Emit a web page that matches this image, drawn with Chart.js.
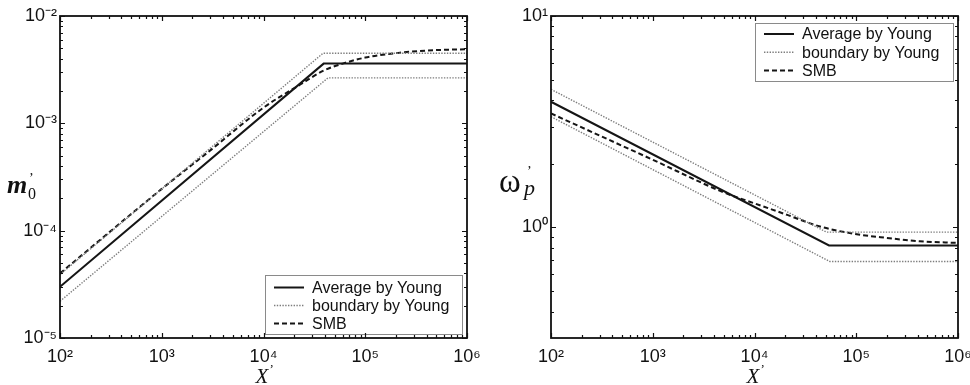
<!DOCTYPE html>
<html><head><meta charset="utf-8">
<script src="https://cdn.jsdelivr.net/npm/chart.js@4/dist/chart.umd.min.js"></script>
<style>
html,body{margin:0;padding:0;background:#fff;}
#wrap{position:relative;width:970px;height:385px;overflow:hidden;background:#fff;}
canvas{position:absolute;top:0;}
</style></head><body>
<div id="wrap">
<canvas id="left" width="485" height="385" style="left:0px"></canvas>
<canvas id="right" width="485" height="385" style="left:485px"></canvas>
</div>
<script>
// ---------- data ----------
const seriesNames = ['Average by Young', 'boundary by Young', 'SMB'];

// left panel: m0' vs X'
const mAvgX   = [1e2, 3.9e4, 1e6];
const mAvgY   = [3.0e-5, 3.6e-3, 3.6e-3];
const mUpX    = [1e2, 3.85e4, 1e6];
const mUpY    = [3.9e-5, 4.5e-3, 4.5e-3];
const mLoX    = [1e2, 4.3e4, 1e6];
const mLoY    = [2.2e-5, 2.65e-3, 2.65e-3];
const mSmbX   = [1e2, 1e3, 3e3, 1e4, 2.3e4, 3.9e4, 6e4, 1e5, 2.2e5, 4.7e5, 1e6];
const mSmbY   = [4.0e-5, 2.45e-4, 5.6e-4, 1.4e-3, 2.3e-3, 3.1e-3, 3.6e-3, 4.1e-3, 4.55e-3, 4.8e-3, 4.9e-3];

// right panel: omega_p' vs X'
const wAvgX   = [1e2, 5.4e4, 1e6];
const wAvgY   = [3.93, 0.822, 0.822];
const wUpX    = [1e2, 5.1e4, 1e6];
const wUpY    = [4.5, 0.95, 0.95];
const wLoX    = [1e2, 5.5e4, 1e6];
const wLoY    = [3.34, 0.69, 0.69];
const wSmbX   = [1e2, 1e3, 4.9e3, 1e4, 2.1e4, 4.4e4, 9.3e4, 2e5, 4.2e5, 1e6];
const wSmbY   = [3.46, 2.09, 1.47, 1.30, 1.146, 1.01, 0.935, 0.892, 0.86, 0.845];

// axes / tick labels
const xTicks      = [1e2, 1e3, 1e4, 1e5, 1e6];
const leftYTicks  = [1e-5, 1e-4, 1e-3, 1e-2];
const rightYTicks = [1e0, 1e1];
const xRange      = [1e2, 1e6];
const leftYRange  = [1e-5, 1e-2];
const rightYRange = [0.3162, 10];

// ---------- helpers ----------
const SUP = {'-':'\u207B','0':'\u2070','1':'\u00B9','2':'\u00B2','3':'\u00B3','4':'\u2074','5':'\u2075','6':'\u2076','7':'\u2077','8':'\u2078','9':'\u2079'};
function powLabel(v){
  const e = Math.round(Math.log10(v));
  return '10' + String(e).split('').map(c => SUP[c]).join('');
}
function pts(xs, ys){ return xs.map((x,i)=>({x:x, y:ys[i]})); }

const STY = {
  avg: {borderColor:'#151515', borderWidth:2, borderDash:[]},
  bnd: {borderColor:'#7d7d7d', borderWidth:1.4, borderDash:[1.4,1.4]},
  smb: {borderColor:'#151515', borderWidth:2, borderDash:[5,3]}
};

function makeDatasets(aX,aY,uX,uY,lX,lY,sX,sY){
  const base = {pointRadius:0, tension:0, fill:false};
  return [
    Object.assign({label:seriesNames[0], data:pts(aX,aY)}, base, STY.avg),
    Object.assign({label:seriesNames[1], data:pts(uX,uY)}, base, STY.bnd),
    Object.assign({label:seriesNames[1], data:pts(lX,lY)}, base, STY.bnd),
    Object.assign({label:seriesNames[2], data:pts(sX,sY), cubicInterpolationMode:'monotone'}, base, STY.smb)
  ];
}

function minorValues(min, max){
  const out = [];
  for (let d = Math.floor(Math.log10(min)) - 1; d <= Math.ceil(Math.log10(max)); d++){
    for (let k = 2; k <= 9; k++){
      const v = k * Math.pow(10, d);
      if (v > min * 1.0001 && v < max * 0.9999) out.push(v);
    }
  }
  return out;
}

function zeroPad(s){ s.paddingLeft = 0; s.paddingRight = 0; s.paddingTop = 0; s.paddingBottom = 0; }

const framePlugin = {
  id: 'frame',
  afterDatasetsDraw(chart, args, opts){
    const ctx = chart.ctx, a = chart.chartArea;
    const xs = chart.scales.x, ys = chart.scales.y;
    ctx.save();
    // legend
    const L = opts.legend;
    const bx = L.right ? a.right - L.dx - L.w : a.left + L.dx;
    const by = L.top ? a.top + L.dy : a.bottom - L.dy - L.h;
    ctx.fillStyle = '#fff';
    ctx.fillRect(bx, by, L.w, L.h);
    ctx.strokeStyle = '#8a8a8a';
    ctx.lineWidth = 1;
    ctx.strokeRect(Math.round(bx)+0.5, Math.round(by)+0.5, L.w, L.h);
    const rows = [STY.avg, STY.bnd, STY.smb];
    ctx.font = '16px "Liberation Sans", Arial, sans-serif';
    ctx.textBaseline = 'middle';
    ctx.textAlign = 'left';
    rows.forEach((s, i) => {
      const yy = by + L.row0 + i * L.rowH;
      ctx.beginPath();
      ctx.setLineDash(s.borderDash);
      ctx.strokeStyle = s.borderColor;
      ctx.lineWidth = s.borderWidth;
      ctx.moveTo(bx + 9, yy); ctx.lineTo(bx + 39, yy);
      ctx.stroke();
      ctx.setLineDash([]);
      ctx.fillStyle = '#111';
      ctx.fillText(seriesNames[i], bx + 47, yy + 1);
    });

    // box
    ctx.setLineDash([]);
    ctx.strokeStyle = '#111';
    ctx.lineWidth = 1.8;
    ctx.strokeRect(a.left, a.top, a.right - a.left, a.bottom - a.top);

    // inward ticks
    ctx.lineWidth = 1.2;
    const major = 5, minor = 3;
    const xmaj = xTicks, xmin = minorValues(xs.min, xs.max);
    ctx.beginPath();
    xmaj.concat(xmin).forEach((v, i) => {
      const len = i < xmaj.length ? major : minor;
      const px = Math.round(xs.getPixelForValue(v)) + 0.5;
      ctx.moveTo(px, a.bottom); ctx.lineTo(px, a.bottom - len);
      ctx.moveTo(px, a.top); ctx.lineTo(px, a.top + len);
    });
    const ymaj = opts.yTicks, ymin = minorValues(ys.min, ys.max);
    ymaj.concat(ymin).forEach((v, i) => {
      const len = i < ymaj.length ? major : minor;
      const py = Math.round(ys.getPixelForValue(v)) + 0.5;
      ctx.moveTo(a.left, py); ctx.lineTo(a.left + len, py);
      ctx.moveTo(a.right, py); ctx.lineTo(a.right - len, py);
    });
    ctx.stroke();

    // x axis title  X'
    ctx.fillStyle = '#111';
    ctx.textBaseline = 'alphabetic';
    ctx.textAlign = 'left';
    const cx = (a.left + a.right) / 2;
    ctx.font = 'italic 21px "Liberation Serif", "Times New Roman", serif';
    ctx.fillText('X', cx - 8, 383);
    ctx.font = '13px "Liberation Serif", serif';
    ctx.fillText('\u2019', cx + 6, 373);

    // y axis title
    opts.drawYTitle(ctx, a);
    ctx.restore();
  }
};

function baseOptions(yRange, yTicks, yWidth, padRight, legend, drawYTitle){
  return {
    responsive: false,
    animation: false,
    events: [],
    layout: {padding: {left: 0, right: padRight, top: 16, bottom: 0}},
    plugins: {
      legend: {display: false},
      tooltip: {enabled: false},
      frame: {legend: legend, yTicks: yTicks, drawYTitle: drawYTitle}
    },
    scales: {
      x: {
        type: 'logarithmic', min: xRange[0], max: xRange[1],
        grid: {display: false, drawTicks: false},
        border: {display: false},
        afterBuildTicks: s => { s.ticks = xTicks.map(v => ({value: v})); },
        afterFit: s => { s.height = 47; zeroPad(s); },
        ticks: {
          autoSkip: false, maxRotation: 0, padding: 8, color: '#111',
          font: {family: '"Liberation Sans", Arial, sans-serif', size: 18},
          callback: v => powLabel(v)
        }
      },
      y: {
        type: 'logarithmic', min: yRange[0], max: yRange[1],
        grid: {display: false, drawTicks: false},
        border: {display: false},
        afterBuildTicks: s => { s.ticks = yTicks.map(v => ({value: v})); },
        afterFit: s => { s.width = yWidth; zeroPad(s); },
        ticks: {
          autoSkip: false, padding: 3, color: '#111',
          font: {family: '"Liberation Sans", Arial, sans-serif', size: 18},
          callback: v => powLabel(v)
        }
      }
    }
  };
}

function drawMTitle(ctx, a){
  ctx.fillStyle = '#111';
  ctx.textAlign = 'left';
  ctx.textBaseline = 'alphabetic';
  ctx.font = 'bold italic 26px "Liberation Serif", "Times New Roman", serif';
  ctx.fillText('m', 7, 193);
  ctx.font = '16px "Liberation Serif", serif';
  ctx.fillText('0', 28, 199);
  ctx.font = '14px "Liberation Serif", serif';
  ctx.fillText('\u2019', 29, 183);
}
function drawWTitle(ctx, a){
  ctx.fillStyle = '#111';
  ctx.textAlign = 'left';
  ctx.textBaseline = 'alphabetic';
  ctx.font = '33px "Liberation Serif", "Times New Roman", serif';
  ctx.fillText('\u03C9', 14, 192);
  ctx.font = '14px "Liberation Serif", serif';
  ctx.fillText('\u2019', 42, 176);
  ctx.font = 'italic 22px "Liberation Serif", serif';
  ctx.fillText('p', 39, 195);
}

new Chart(document.getElementById('left'), {
  type: 'line',
  data: {datasets: makeDatasets(mAvgX,mAvgY,mUpX,mUpY,mLoX,mLoY,mSmbX,mSmbY)},
  options: baseOptions(leftYRange, leftYTicks, 60, 18,
    {right:true, top:false, dx:5, dy:4, w:197, h:59, row0:12.5, rowH:18},
    drawMTitle),
  plugins: [framePlugin]
});

new Chart(document.getElementById('right'), {
  type: 'line',
  data: {datasets: makeDatasets(wAvgX,wAvgY,wUpX,wUpY,wLoX,wLoY,wSmbX,wSmbY)},
  options: baseOptions(rightYRange, rightYTicks, 66, 12,
    {right:true, top:true, dx:5, dy:7, w:198, h:58, row0:11, rowH:18.3},
    drawWTitle),
  plugins: [framePlugin]
});
</script>
</body></html>
